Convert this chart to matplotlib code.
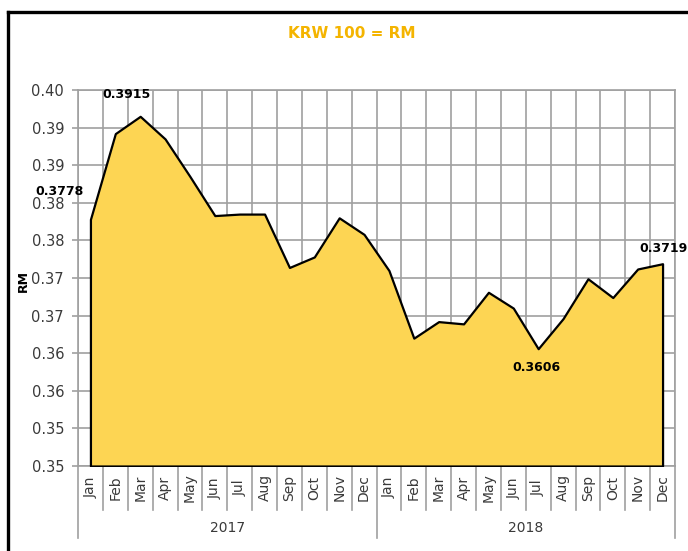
import matplotlib
matplotlib.use("Agg")
import matplotlib.pyplot as plt
import matplotlib.transforms as mtransforms
from matplotlib.lines import Line2D

# monthly KRW 100 -> RM rate
months = ["Jan", "Feb", "Mar", "Apr", "May", "Jun",
          "Jul", "Aug", "Sep", "Oct", "Nov", "Dec"]
years = ["2017", "2018"]
rate_2017 = [0.3778, 0.3892, 0.3915, 0.3885, 0.3835, 0.3783,
             0.3785, 0.3785, 0.3714, 0.3728, 0.3780, 0.3758]
rate_2018 = [0.3710, 0.3620, 0.3642, 0.3639, 0.3681, 0.3660,
             0.3606, 0.3646, 0.3699, 0.3674, 0.3712, 0.3719]
labelled_points = [0, 2, 18, 23]  # index into the combined series

y_ticks = [0.345, 0.350, 0.355, 0.360, 0.365, 0.370,
           0.375, 0.380, 0.385, 0.390, 0.395]
y_tick_labels = ["0.35", "0.35", "0.36", "0.36", "0.37", "0.37",
                 "0.38", "0.38", "0.39", "0.39", "0.40"]

rates = rate_2017 + rate_2018
x = list(range(len(rates)))

FILL = "#FDD553"
GRID = "#a0a0a0"
TXT = "#3a3a3a"

plt.rcParams["font.family"] = ["DejaVu Sans"]

W, H = 688, 551
fig = plt.figure(figsize=(W / 100, H / 100), dpi=100)
ax = fig.add_axes([78 / W, (H - 466) / H, 597 / W, 376 / H])

ax.set_xlim(-0.5, len(rates) - 0.5)
ax.set_ylim(y_ticks[0], y_ticks[-1])

ax.fill_between(x, y_ticks[0], rates, facecolor=FILL, edgecolor="black",
                linewidth=1.6, zorder=3)

# grid: horizontal at ticks, vertical at month boundaries
bounds = [i - 0.5 for i in range(len(rates) + 1)]
ax.set_xticks(bounds)
ax.set_yticks(y_ticks)
ax.set_yticklabels(y_tick_labels)
ax.set_axisbelow(True)
ax.grid(True, color=GRID, linewidth=1.2)
ax.tick_params(axis="x", length=0, labelbottom=False)
ax.tick_params(axis="y", length=4, width=1.2, color=GRID, pad=6,
               labelsize=10.5, labelcolor=TXT)
for sp in ax.spines.values():
    sp.set_color(GRID)
    sp.set_linewidth(1.2)

# two-level category axis below the plot
trans = mtransforms.blended_transform_factory(ax.transData, ax.transAxes)
for i, b in enumerate(bounds):
    low = -0.191 if i % 12 == 0 else -0.117
    ax.add_line(Line2D([b, b], [0, low], transform=trans, color=GRID,
                       linewidth=1.2, clip_on=False))
for i in x:
    ax.text(i, -0.058, months[i % 12], transform=trans, rotation=90,
            ha="center", va="center", fontsize=10, color=TXT)
for k, yr in enumerate(years):
    ax.text(k * 12 + 5.5, -0.165, yr, transform=trans, ha="center",
            va="center", fontsize=10, color=TXT)

# value labels
offsets = {0: (-22, 20), 2: (-10, 16), 18: (-1.5, -13.5), 23: (0.5, 11)}
for i in labelled_points:
    ax.annotate(f"{rates[i]:.4f}", xy=(i, rates[i]), xytext=offsets[i],
                textcoords="offset points", ha="center", va="center",
                fontsize=9, fontweight="bold", color="black", zorder=5,
                annotation_clip=False)

fig.text(352 / W, 1 - 34 / H, "KRW 100 = RM", ha="center", va="center",
         fontsize=11, fontweight="bold", color="#F4B400")
fig.text(23 / W, 1 - 281 / H, "RM", rotation=90, ha="center", va="center",
         fontsize=9, fontweight="bold", color="black")

# outer frame (top and left edges)
fig.add_artist(Line2D([7.5 / W, 1], [1 - 12 / H, 1 - 12 / H],
                      transform=fig.transFigure, color="black", linewidth=2.4))
fig.add_artist(Line2D([7.5 / W, 7.5 / W], [0, 1 - 12 / H],
                      transform=fig.transFigure, color="black", linewidth=2.4))

fig.savefig("out.png", dpi=100)
